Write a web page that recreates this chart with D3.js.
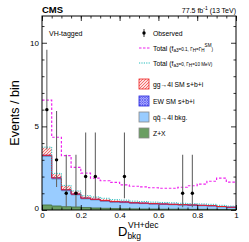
<!DOCTYPE html>
<html><head><meta charset="utf-8">
<script src="https://cdn.jsdelivr.net/npm/d3@7"></script>
<style>body{margin:0;background:#fff}svg{display:block;font-family:"Liberation Sans",Arial,sans-serif}</style>
</head><body><div id="chart"></div>
<script>
const edges = [0, 0.05, 0.1, 0.15, 0.2, 0.25, 0.3, 0.35, 0.4, 0.45, 0.5, 0.55, 0.6, 0.65, 0.7, 0.75, 0.8, 0.85, 0.9, 0.95, 1];
const zx = [0.30, 0.24, 0.20, 0.18, 0.15, 0.12, 0.10, 0.09, 0.08, 0.07, 0.06, 0.06, 0.05, 0.05, 0.05, 0.04, 0.04, 0.04, 0.03, 0.03];
const qq = [2.90, 1.61, 0.95, 0.72, 0.51, 0.48, 0.42, 0.37, 0.36, 0.33, 0.32, 0.29, 0.28, 0.26, 0.24, 0.23, 0.21, 0.19, 0.15, 0.11];
const ew = [0.07, 0.07, 0.06, 0.05, 0.05, 0.04, 0.04, 0.04, 0.04, 0.03, 0.03, 0.03, 0.03, 0.03, 0.03, 0.03, 0.03, 0.03, 0.03, 0.03];
const gg = [0.45, 0.23, 0.22, 0.15, 0.11, 0.10, 0.10, 0.08, 0.07, 0.06, 0.06, 0.05, 0.05, 0.05, 0.04, 0.04, 0.04, 0.04, 0.03, 0.03];
const totalBsm = [6.57, 4.35, 3.25, 2.55, 2.20, 1.90, 1.75, 1.65, 1.50, 1.42, 1.38, 1.33, 1.30, 1.30, 1.36, 1.45, 1.55, 1.72, 1.90, 1.67];
const totalWide = [3.76, 2.19, 1.47, 1.14, 0.86, 0.78, 0.70, 0.62, 0.59, 0.53, 0.51, 0.47, 0.45, 0.43, 0.40, 0.38, 0.36, 0.34, 0.28, 0.23];
const observed = [6, 3, 1, 1, 2, 2, 0, 0, 2, 0, 0, 0, 0, 0, 1, 1, 0, 0, 0, 0];
const obsLow = [3.62, 1.37, 0.17, 0.17, 0.71, 0.71, 0, 0, 0.71, 0, 0, 0, 0, 0, 0.17, 0.17, 0, 0, 0, 0];
const obsHigh = [9.58, 5.92, 3.30, 3.30, 4.64, 4.64, 0, 0, 4.64, 0, 0, 0, 0, 0, 3.30, 3.30, 0, 0, 0, 0];
const xTicks = [0, 0.2, 0.4, 0.6, 0.8, 1];
const yTicks = [0, 5, 10];

const width = 249, height = 242;
const pLeft = 42, pRight = 236, pTop = 16, pBottom = 210;

const svg = d3.select("#chart").append("svg")
    .attr("width", width).attr("height", height);

const x = d3.scaleLinear().domain([0, 1]).range([pLeft, pRight]);
const y = d3.scaleLinear().domain([0, 11.6]).range([pBottom, pTop]);

// patterns
const defs = svg.append("defs");
const pr = defs.append("pattern").attr("id", "hatchRed").attr("patternUnits", "userSpaceOnUse")
    .attr("width", 3).attr("height", 3);
pr.append("rect").attr("width", 3).attr("height", 3).attr("fill", "#fde0e0");
pr.append("path").attr("d", "M-1,1 l2,-2 M0,3 l3,-3 M2,4 l2,-2").attr("stroke", "#f05050").attr("stroke-width", 0.8);
const pb = defs.append("pattern").attr("id", "hatchBlue").attr("patternUnits", "userSpaceOnUse")
    .attr("width", 2.5).attr("height", 2.5);
pb.append("rect").attr("width", 2.5).attr("height", 2.5).attr("fill", "#c8c8ff");
pb.append("path").attr("d", "M0,0 l2.5,2.5 M0,2.5 l2.5,-2.5").attr("stroke", "#3333ee").attr("stroke-width", 0.6);

// cumulative stack
const layers = [
    { vals: zx, fill: "#6a9e62", line: "#3d6b38" },
    { vals: qq, fill: "#99ccff", line: "#5b8fc0" },
    { vals: ew, fill: "url(#hatchBlue)", line: "#2222dd" },
    { vals: gg, fill: "url(#hatchRed)", line: "#ee2222" }
];
let base = zx.map(() => 0);
const stepPts = vals => edges.map((e, i) => [e, vals[Math.min(i, vals.length - 1)]]);
layers.forEach(l => {
    const lo = base.slice();
    const hi = base.map((b, i) => b + l.vals[i]);
    const pts = edges.map((e, i) => ({ x: e, lo: lo[Math.min(i, 19)], hi: hi[Math.min(i, 19)] }));
    svg.append("path")
        .datum(pts)
        .attr("fill", l.fill)
        .attr("d", d3.area().curve(d3.curveStepAfter).x(d => x(d.x)).y0(d => y(d.lo)).y1(d => y(d.hi)));
    l.hi = hi;
    base = hi;
});
// outlines
const stepLine = d3.line().curve(d3.curveStepAfter).x(d => x(d[0])).y(d => y(d[1]));
layers.forEach((l, k) => {
    const v = k === 3 ? layers[2].hi : l.hi;
    svg.append("path").datum(stepPts(v)).attr("fill", "none")
        .attr("stroke", l.line).attr("stroke-width", k >= 2 ? 1 : 0.8)
        .attr("d", stepLine);
});

svg.append("path").datum(stepPts(totalWide)).attr("fill", "none")
    .attr("stroke", "#22bbbb").attr("stroke-width", 1).attr("stroke-dasharray", "1.2,1.2")
    .attr("d", stepLine);
svg.append("path").datum(stepPts(totalBsm)).attr("fill", "none")
    .attr("stroke", "#ee22ee").attr("stroke-width", 1.2).attr("stroke-dasharray", "2.5,1.8")
    .attr("d", stepLine);

// observed
const obs = observed.map((n, i) => ({ c: (edges[i] + edges[i + 1]) / 2, n, lo: obsLow[i], hi: obsHigh[i] }))
    .filter(d => d.n > 0);
svg.selectAll(".err").data(obs).enter().append("line")
    .attr("x1", d => x(d.c)).attr("x2", d => x(d.c))
    .attr("y1", d => y(d.lo)).attr("y2", d => y(d.hi))
    .attr("stroke", "#666").attr("stroke-width", 1.1);
svg.selectAll(".pt").data(obs).enter().append("circle")
    .attr("cx", d => x(d.c)).attr("cy", d => y(d.n)).attr("r", 1.7).attr("fill", "#000");

// axes
const xMinor = edges;
const yMinor = [1, 2, 3, 4, 6, 7, 8, 9, 11];
function ax(gen, tr, vals, size, fmt) {
    const a = gen.tickValues(vals).tickSize(size).tickPadding(2);
    if (!fmt) a.tickFormat("");
    const g = svg.append("g").attr("transform", tr).call(a);
    g.select(".domain").remove();
    g.selectAll("line").attr("stroke", "#000").attr("stroke-width", 0.8);
    return g;
}
const gx = ax(d3.axisBottom(x), `translate(0,${pBottom})`, xTicks, -5, true);
gx.selectAll("text").attr("font-size", 8).attr("fill", "#000").text(d => d === 0 ? "0" : d === 1 ? "1" : d3.format(".1f")(d));
ax(d3.axisBottom(x), `translate(0,${pBottom})`, xMinor, -2.5, false);
ax(d3.axisTop(x), `translate(0,${pTop})`, xTicks, -5, false);
ax(d3.axisTop(x), `translate(0,${pTop})`, xMinor, -2.5, false);
const gy = ax(d3.axisLeft(y), `translate(${pLeft},0)`, yTicks, -5, true);
gy.selectAll("text").attr("font-size", 8).attr("fill", "#000").attr("dx", -1).attr("dy", "0.32em");
gy.selectAll(".tick").filter(d => d === 0).select("text").attr("dy", "0.1em");
ax(d3.axisLeft(y), `translate(${pLeft},0)`, yMinor, -2.5, false);
ax(d3.axisRight(y), `translate(${pRight},0)`, yTicks, -5, false);
ax(d3.axisRight(y), `translate(${pRight},0)`, yMinor, -2.5, false);

svg.append("rect").attr("x", pLeft).attr("y", pTop).attr("width", pRight - pLeft).attr("height", pBottom - pTop)
    .attr("fill", "none").attr("stroke", "#000").attr("stroke-width", 1);

// titles
svg.append("text").attr("x", pLeft).attr("y", 13).attr("font-size", 9.5).attr("font-weight", "bold").text("CMS");
const lumi = svg.append("text").attr("x", pRight).attr("y", 13).attr("font-size", 7).attr("text-anchor", "end");
lumi.append("tspan").text("77.5 fb");
lumi.append("tspan").attr("dy", -3).attr("font-size", 5).text("-1");
lumi.append("tspan").attr("dy", 3).text(" (13 TeV)");
svg.append("text").attr("x", 49).attr("y", 36).attr("font-size", 7).text("VH-tagged");

svg.append("text").attr("transform", "translate(19,113) rotate(-90)").attr("text-anchor", "middle")
    .attr("font-size", 12.5).text("Events / bin");
const xt = svg.append("text").attr("x", 118).attr("y", 236).attr("font-size", 13);
xt.append("tspan").text("D");
xt.append("tspan").attr("font-size", 8.5).attr("dy", 2.5).text("bkg");
xt.append("tspan").attr("font-size", 8.5).attr("x", 128).attr("y", 228).text("VH+dec");

// legend
const lx = 139, tx = 153;
const fs = 6.8;
const obsY = 33;
svg.append("line").attr("x1", lx + 5).attr("x2", lx + 5).attr("y1", obsY - 4).attr("y2", obsY + 4).attr("stroke", "#000").attr("stroke-width", 0.8);
svg.append("circle").attr("cx", lx + 5).attr("cy", obsY).attr("r", 1.7).attr("fill", "#000");
svg.append("text").attr("x", tx).attr("y", obsY + 2.5).attr("font-size", fs).text("Observed");

function totalLabel(yy, parts) {
    const t = svg.append("text").attr("x", tx).attr("y", yy + 2.5).attr("font-size", fs);
    parts.forEach(p => {
        const s = t.append("tspan").text(p[0]);
        if (p[1]) s.attr("font-size", 4.6).attr("dy", p[1]);
    });
}
const t1 = 48, t2 = 63;
svg.append("line").attr("x1", lx).attr("x2", lx + 11).attr("y1", t1).attr("y2", t1)
    .attr("stroke", "#ee22ee").attr("stroke-width", 1.2).attr("stroke-dasharray", "2.5,1.5");
totalLabel(t1, [["Total (f"], ["a3", 1.5], ["=0.1, Γ", -1.5], ["H", 1.5], ["=Γ", -1.5], ["H", 1.5], ["SM", -5], [")", 3.5]]);
svg.append("line").attr("x1", lx).attr("x2", lx + 11).attr("y1", t2).attr("y2", t2)
    .attr("stroke", "#22bbbb").attr("stroke-width", 1).attr("stroke-dasharray", "1.2,1.2");
totalLabel(t2, [["Total (f"], ["a3", 1.5], ["=0, Γ", -1.5], ["H", 1.5], ["=10 MeV)", -1.5]]);

const boxes = [
    { y: 84, fill: "url(#hatchRed)", stroke: "#ee2222", label: "gg→4l SM s+b+i" },
    { y: 101, fill: "url(#hatchBlue)", stroke: "#2222dd", label: "EW SM s+b+i" },
    { y: 117, fill: "#99ccff", stroke: "#888", label: "qq̄→4l bkg." },
    { y: 133, fill: "#6a9e62", stroke: "#888", label: "Z+X" }
];
boxes.forEach(b => {
    svg.append("rect").attr("x", lx).attr("y", b.y - 5).attr("width", 10).attr("height", 10)
        .attr("fill", b.fill).attr("stroke", b.stroke).attr("stroke-width", 0.8);
    svg.append("text").attr("x", tx).attr("y", b.y + 2.5).attr("font-size", fs).text(b.label);
});
</script>
</body></html>
